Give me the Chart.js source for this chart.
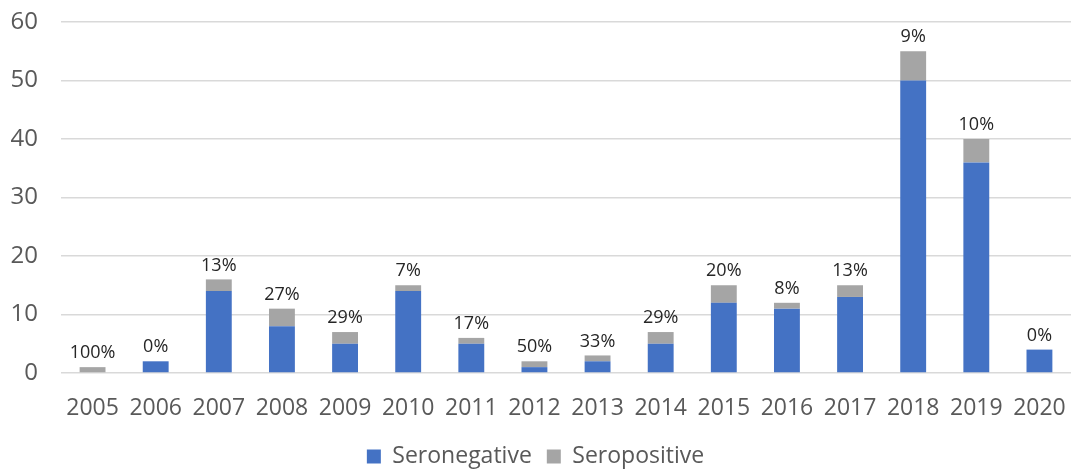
<!DOCTYPE html>
<html lang="en">
<head>
    <meta charset="UTF-8">
    <title>Seronegative vs Seropositive by year</title>
    <script src="https://cdn.jsdelivr.net/npm/chart.js"></script>
    <style>
        html, body {
            margin: 0;
            padding: 0;
            background: #ffffff;
        }
        #chart {
            display: block;
        }
    </style>
</head>
<body>
    <canvas id="chart" width="1071" height="470"></canvas>

    <script>
        const years = ['2005', '2006', '2007', '2008', '2009', '2010', '2011', '2012',
                       '2013', '2014', '2015', '2016', '2017', '2018', '2019', '2020'];
        const seronegative = [0, 2, 14, 8, 5, 14, 5, 1, 2, 5, 12, 11, 13, 50, 36, 4];
        const seropositive = [1, 0, 2, 3, 2, 1, 1, 1, 1, 2, 3, 1, 2, 5, 4, 0];
        const percentLabels = ['100%', '0%', '13%', '27%', '29%', '7%', '17%', '50%',
                               '33%', '29%', '20%', '8%', '13%', '9%', '10%', '0%'];
        const yTicks = [0, 10, 20, 30, 40, 50, 60];

        const FONT = "'Open Sans', sans-serif";

        // percentage text above each stacked bar
        const percentPlugin = {
            id: 'percentLabels',
            afterDatasetsDraw(chart) {
                const ctx = chart.ctx;
                const topMeta = chart.getDatasetMeta(1);
                ctx.save();
                ctx.font = '18px ' + FONT;
                ctx.fillStyle = '#262626';
                ctx.textAlign = 'center';
                ctx.textBaseline = 'bottom';
                topMeta.data.forEach((bar, i) => {
                    ctx.fillText(percentLabels[i], bar.x, bar.y - 5);
                });
                ctx.restore();
            }
        };

        const ctx = document.getElementById('chart').getContext('2d');
        new Chart(ctx, {
            type: 'bar',
            data: {
                labels: years,
                datasets: [{
                    label: 'Seronegative',
                    data: seronegative,
                    backgroundColor: '#4472C4',
                    categoryPercentage: 1.0,
                    barPercentage: 0.41
                }, {
                    label: 'Seropositive',
                    data: seropositive,
                    backgroundColor: '#A5A5A5',
                    categoryPercentage: 1.0,
                    barPercentage: 0.41
                }]
            },
            options: {
                responsive: false,
                animation: false,
                layout: {
                    padding: { top: 22, right: 0, left: 0, bottom: 0 }
                },
                plugins: {
                    legend: {
                        position: 'bottom',
                        maxHeight: 40,
                        labels: {
                            font: { family: FONT, size: 23 },
                            color: '#595959',
                            boxWidth: 14,
                            boxHeight: 14,
                            padding: 15
                        }
                    },
                    tooltip: { enabled: false }
                },
                scales: {
                    x: {
                        stacked: true,
                        grid: { display: false, drawTicks: false },
                        border: { display: false },
                        ticks: {
                            font: { family: FONT, size: 23 },
                            color: '#595959',
                            padding: 22,
                            maxRotation: 0
                        },
                        afterFit(axis) {
                            axis.height = 57;
                            axis.paddingLeft = 0;
                            axis.paddingRight = 0;
                        }
                    },
                    y: {
                        stacked: true,
                        min: 0,
                        max: 60,
                        afterBuildTicks(axis) {
                            axis.ticks = yTicks.map(v => ({ value: v }));
                        },
                        grid: { color: '#d9d9d9', lineWidth: 1.5, drawTicks: false },
                        border: { display: false },
                        ticks: {
                            font: { family: FONT, size: 24 },
                            color: '#595959',
                            padding: 23
                        },
                        afterFit(axis) {
                            axis.width = 61;
                            axis.paddingTop = 0;
                            axis.paddingBottom = 0;
                        }
                    }
                }
            },
            plugins: [percentPlugin]
        });
    </script>
</body>
</html>
